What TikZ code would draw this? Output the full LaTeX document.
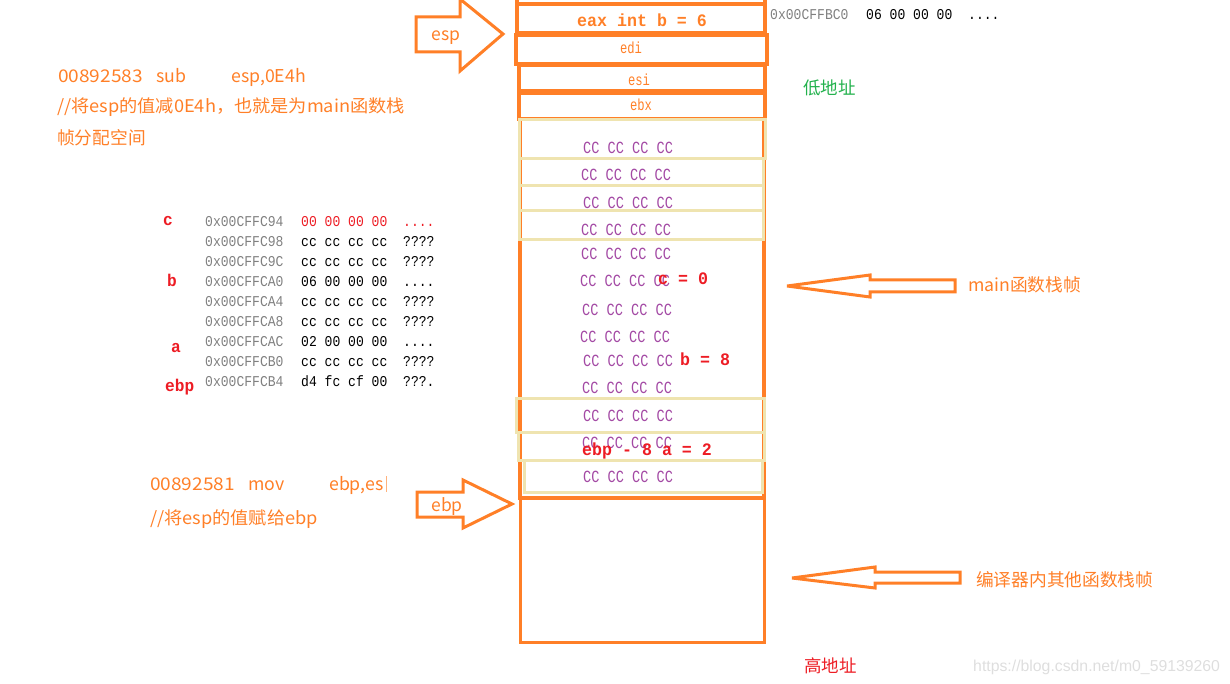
\documentclass[tikz,border=0pt]{standalone}
\usepackage{fontspec}
\newfontfamily\cjk{Noto Sans CJK SC}
\newfontfamily\cjkw[FakeStretch=1.04]{Noto Sans CJK SC}
\newfontfamily\cjkd[FakeStretch=1.09]{Noto Sans CJK SC}
\newfontfamily\monoCC[FakeStretch=0.8]{Liberation Mono}
\newfontfamily\monoReg[FakeStretch=0.76]{Liberation Mono}
\newfontfamily\monoDump[FakeStretch=0.87]{Liberation Mono}
\newfontfamily\monoVal[FakeStretch=0.95]{Liberation Mono}
\newfontfamily\wmfont{Liberation Sans}
\definecolor{porange}{RGB}{255,127,39}
\definecolor{pyellow}{RGB}{239,228,176}
\definecolor{ppurple}{RGB}{163,73,164}
\definecolor{pred}{RGB}{237,28,36}
\definecolor{pgreen}{RGB}{34,177,76}
\definecolor{addrgray}{RGB}{128,128,128}
\newcommand\myfourdots{....}
\newcommand\myqqqdot{???.}
\tikzset{
 cell/.style={draw=porange, line width=3.5pt},
 yel/.style={draw=pyellow, line width=3pt},
 blockarrow/.style={draw=porange, line width=3pt, line join=miter, miter limit=3},
 txt/.style={inner sep=0pt, anchor=base west},
 note/.style={txt, text=porange, font=\cjk\fontsize{17.7}{20}\selectfont},
 cc/.style={txt, text=ppurple, font=\monoCC\fontsize{17}{19}\selectfont},
 redv/.style={txt, text=pred, font=\monoVal\bfseries\fontsize{17.5}{19}\selectfont},
 reg/.style={inner sep=0pt, anchor=base, text=porange, font=\monoReg\fontsize{16}{18}\selectfont},
 addr/.style={txt, text=addrgray, font=\monoDump\fontsize{15}{17}\selectfont},
 byte/.style={txt, text=black, font=\monoDump\fontsize{15}{17}\selectfont},
 lbl/.style={txt, text=pred, font=\monoVal\bfseries\fontsize{17}{19}\selectfont},
}
\begin{document}
\begin{tikzpicture}[x=1pt,y=-1pt]
\useasboundingbox (0,0) rectangle (1230,684);
% ---- stack cells
\draw[cell] (517,-10) rectangle (765,4);
\draw[cell] (517,4) rectangle (765,33);
\node[inner sep=0pt, anchor=base west, text=porange, font=\monoVal\bfseries\fontsize{17.5}{19}\selectfont] (eax) at (577,26.5) {eax int b = 6};
\draw[cell] (516,35) rectangle (767,64);
\node[reg] (edi) at (631,54) {edi};
\draw[cell] (519,65) rectangle (765,91);
\node[reg] (esi) at (639,86) {esi};
\draw[cell] (519,93) rectangle (765,119);
\node[reg] (ebx) at (641,111) {ebx};
% main frame
\draw[cell] (520,119) rectangle (764,498);
\draw[cell, line width=3pt] (520,498) rectangle (764,642);
% yellow slots
\draw[yel] (519,120) rectangle (765,159);
\draw[yel] (519,159) rectangle (763,186);
\draw[yel] (519,186) rectangle (763,211);
\draw[yel] (519,211) rectangle (763,240);
\draw[yel] (516,398) rectangle (764,432);
\draw[yel] (518,432) rectangle (764,460);
\draw[yel] (524,460) rectangle (762,492);
% CC rows
\foreach \x/\y [count=\i] in {583/154,581/181,583/209,581/236,581/260,580/287,582/315,580/342,583/366,582/393,583/421,582/448,583/482}
  \node[cc] (cc\i) at (\x,\y) {CC CC CC CC};
\node[redv] (cval) at (658,285) {c = 0};
\node[redv] (bval) at (680,365) {b = 8};
\node[redv] (aval) at (582,455) {ebp - 8 a = 2};
% ---- arrows
\draw[blockarrow] (416,17) -- (460,17) -- (460,-1) -- (503,34) -- (460,71) -- (460,52) -- (416,52) -- cycle;
\node[inner sep=0pt, anchor=base, text=porange, font=\cjk\fontsize{17.5}{20}\selectfont] (esp) at (446,41) {esp};
\draw[blockarrow] (417,492) -- (463,492) -- (463,480) -- (512,504) -- (463,528) -- (463,517) -- (417,517) -- cycle;
\node[inner sep=0pt, anchor=base, text=porange, font=\cjk\fontsize{17.5}{20}\selectfont] (ebp) at (447,511) {ebp};
\draw[blockarrow] (787,286) -- (870,275) -- (870,280) -- (955,280) -- (955,292) -- (870,292) -- (870,297) -- cycle;
\node[note] (mainf) at (968,291) {main函数栈帧};
\draw[blockarrow] (792,578) -- (875,567) -- (875,572) -- (960,572) -- (960,583) -- (875,583) -- (875,588) -- cycle;
\node[note] (otherf) at (976,586) {编译器内其他函数栈帧};
% ---- address labels
\node[txt, text=pgreen, font=\cjk\fontsize{17.5}{20}\selectfont] (low) at (803,95) {低地址};
\node[txt, text=pred, font=\cjk\fontsize{17.5}{20}\selectfont] (high) at (804,672) {高地址};
\node[txt, text=black!13, font=\wmfont\fontsize{15.8}{18}\selectfont] (wm) at (973,671) {https://blog.csdn.net/m0\_59139260};
% ---- top-right memory
\node[addr] (tra) at (770,20) {0x00CFFBC0};
\node[byte] (trb) at (866,20) {06 00 00 00};
\node[byte] (trc) at (968,20) {\myfourdots};
% ---- notes
\node[note, font=\cjkd\fontsize{17.5}{20}\selectfont] (n1a) at (58,83) {00892583};
\node[note] (n1b) at (156,83) {sub};
\node[note] (n1c) at (231,83) {esp,0E4h};
\node[note, font=\cjkw\fontsize{17.5}{20}\selectfont] (n2) at (57,113) {//将esp的值减0E4h，也就是为main函数栈};
\node[note] (n3) at (57,145) {帧分配空间};
\node[note, font=\cjkd\fontsize{17.5}{20}\selectfont] (m1a) at (150,490) {00892581};
\node[note] (m1b) at (248,490) {mov};
\node[note] (m1c) at (329,490) {ebp,es};
\draw[porange!60, line width=0.8pt] (386,476) -- (386,492);
\node[note, font=\cjkw\fontsize{17.5}{20}\selectfont] (m2) at (150,524) {//将esp的值赋给ebp};
% ---- memory dump
\node[lbl] (lc) at (163,225.5) {c};
\node[lbl] (lb) at (167,286.5) {b};
\node[lbl] (la) at (171,352) {a};
\node[lbl] (lebp) at (165,391) {ebp};
\node[addr] (ad0) at (205,226.5) {0x00CFFC94};
\node[byte, text=pred] (by0) at (301,226.5) {00 00 00 00};
\node[byte, text=pred] (as0) at (403,226.5) {\myfourdots};
\foreach \a/\b/\c [count=\i] in {0x00CFFC98/cc cc cc cc/????,0x00CFFC9C/cc cc cc cc/????,0x00CFFCA0/06 00 00 00/\myfourdots,0x00CFFCA4/cc cc cc cc/????,0x00CFFCA8/cc cc cc cc/????,0x00CFFCAC/02 00 00 00/\myfourdots,0x00CFFCB0/cc cc cc cc/????,0x00CFFCB4/d4 fc cf 00/\myqqqdot}{
  \node[addr] (ad\i) at (205,{226.5+20*\i}) {\a};
  \node[byte] (by\i) at (301,{226.5+20*\i}) {\b};
  \node[byte] (as\i) at (403,{226.5+20*\i}) {\c};
}
\end{tikzpicture}
\end{document}
